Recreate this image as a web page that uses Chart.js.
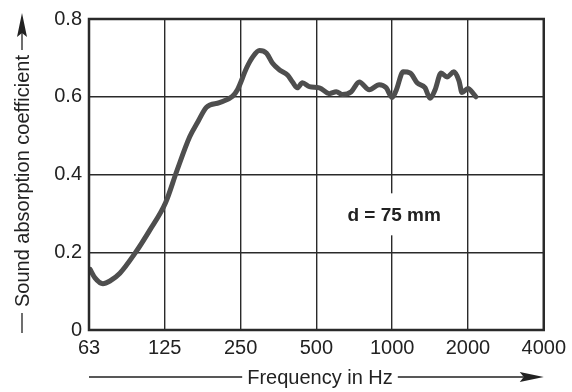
<!DOCTYPE html>
<html>
<head>
<meta charset="utf-8">
<script src="https://cdn.jsdelivr.net/npm/chart.js@4"></script>
<style>
  html, body { margin: 0; padding: 0; background: #fff; }
  #wrap { width: 572px; height: 392px; }
</style>
</head>
<body>
<div id="wrap"><canvas id="myChart" width="572" height="392"></canvas></div>
<script>
// values
const freqs = [63.1, 66, 71, 75.7, 82.9, 95.1, 109, 126, 139.5, 157, 169, 183, 206, 232, 243,
    264, 279, 297, 317, 335, 357, 384, 402, 420, 440, 469, 514, 563, 600, 634, 688, 740,
    811, 888, 947, 1000, 1037, 1106, 1179, 1256, 1351, 1414, 1481, 1564, 1652, 1760,
    1843, 1894, 2000, 2113, 2150];
const absorption = [0.156, 0.134, 0.119, 0.126, 0.146, 0.197, 0.257, 0.328, 0.409, 0.497, 0.535,
    0.573, 0.585, 0.601, 0.618, 0.674, 0.702, 0.719, 0.712, 0.686, 0.669, 0.656, 0.638,
    0.623, 0.636, 0.626, 0.623, 0.608, 0.613, 0.606, 0.613, 0.638, 0.618, 0.631, 0.623,
    0.598, 0.616, 0.664, 0.661, 0.636, 0.623, 0.596, 0.618, 0.661, 0.651, 0.664, 0.641,
    0.611, 0.621, 0.606, 0.600];

const freqTicks = [62.5, 125, 250, 500, 1000, 2000, 4000];
const freqLabels = ['63', '125', '250', '500', '1000', '2000', '4000'];
const yTitle = 'Sound absorption coefficient';
const xTitle = 'Frequency in Hz';
const note = 'd = 75 mm';

const FONT = '"Liberation Sans", Arial, sans-serif';
const INK = '#222';

function arrowHead(ctx, x, y, dir) { // dir: 'right' or 'up'
    ctx.beginPath();
    if (dir === 'right') {
        ctx.moveTo(x, y);
        ctx.lineTo(x - 24, y - 5);
        ctx.lineTo(x - 20, y);
        ctx.lineTo(x - 24, y + 5);
    } else {
        ctx.moveTo(x, y);
        ctx.lineTo(x - 5, y + 24);
        ctx.lineTo(x, y + 20);
        ctx.lineTo(x + 5, y + 24);
    }
    ctx.closePath();
    ctx.fill();
}

const decorPlugin = {
    id: 'decor',
    afterDraw(c) {
        const ctx = c.ctx;
        const a = c.chartArea;
        ctx.save();

        // frame
        ctx.strokeStyle = '#2a2a2a';
        ctx.lineWidth = 2.5;
        ctx.strokeRect(a.left, a.top, a.right - a.left, a.bottom - a.top);

        // label box, hides the 1000 Hz grid line behind it
        const xs = c.scales.x, ys = c.scales.y;
        const nx = xs.getPixelForValue(1000) + 2;
        const ny = ys.getPixelForValue(0.295);
        ctx.fillStyle = '#fff';
        ctx.fillRect(nx - 60, ny - 22, 120, 42);
        ctx.fillStyle = INK;
        ctx.font = 'bold 19px ' + FONT;
        ctx.textAlign = 'center';
        ctx.textBaseline = 'middle';
        ctx.fillText(note, nx, ny);

        // x title with arrow line
        ctx.font = '20px ' + FONT;
        ctx.strokeStyle = INK;
        ctx.fillStyle = INK;
        ctx.lineWidth = 1.3;
        const tx = 320, ty = 377;
        const tw = ctx.measureText(xTitle).width;
        ctx.fillText(xTitle, tx, ty + 1);
        ctx.beginPath();
        ctx.moveTo(a.left, ty);
        ctx.lineTo(tx - tw / 2 - 5, ty);
        ctx.moveTo(tx + tw / 2 + 5, ty);
        ctx.lineTo(a.right - 20, ty);
        ctx.stroke();
        arrowHead(ctx, a.right, ty, 'right');

        // y title with arrow line
        const yx = 22, cy = 181;
        const yw = ctx.measureText(yTitle).width;
        ctx.save();
        ctx.translate(yx, cy);
        ctx.rotate(-Math.PI / 2);
        ctx.fillText(yTitle, 0, 1);
        ctx.restore();
        ctx.beginPath();
        ctx.moveTo(yx, 333);
        ctx.lineTo(yx, cy + yw / 2 + 6);
        ctx.moveTo(yx, cy - yw / 2 - 5);
        ctx.lineTo(yx, 13 + 20);
        ctx.stroke();
        arrowHead(ctx, yx, 13, 'up');

        ctx.restore();
    }
};

const points = freqs.map((f, i) => ({ x: f, y: absorption[i] }));

new Chart('myChart', {
    type: 'line',
    data: {
        datasets: [{
            data: points,
            borderColor: '#4e4e4e',
            borderWidth: 5,
            pointRadius: 0,
            fill: false,
            cubicInterpolationMode: 'monotone',
            borderCapStyle: 'round',
            borderJoinStyle: 'round'
        }]
    },
    options: {
        responsive: false,
        animation: false,
        events: [],
        layout: { padding: { left: 0, right: 27, top: 13, bottom: 0 } },
        plugins: { legend: { display: false }, tooltip: { enabled: false } },
        scales: {
            x: {
                type: 'logarithmic',
                min: 62.5,
                max: 4000,
                afterBuildTicks: s => { s.ticks = freqTicks.map(v => ({ value: v })); },
                afterFit: s => { s.height = 62; },
                grid: { color: '#2a2a2a', lineWidth: 1.4, drawTicks: false },
                border: { display: false },
                ticks: {
                    autoSkip: false,
                    maxRotation: 0,
                    padding: 6,
                    color: INK,
                    font: { family: FONT, size: 20 },
                    callback: (v, i) => freqLabels[i]
                }
            },
            y: {
                min: 0,
                max: 0.8,
                afterFit: s => { s.width = 89; },
                grid: { color: '#2a2a2a', lineWidth: 1.4, drawTicks: false },
                border: { display: false },
                ticks: {
                    stepSize: 0.2,
                    padding: 7,
                    color: INK,
                    font: { family: FONT, size: 20 },
                    callback: v => (v === 0 ? '0' : v.toFixed(1))
                }
            }
        }
    },
    plugins: [decorPlugin]
});
</script>
</body>
</html>
